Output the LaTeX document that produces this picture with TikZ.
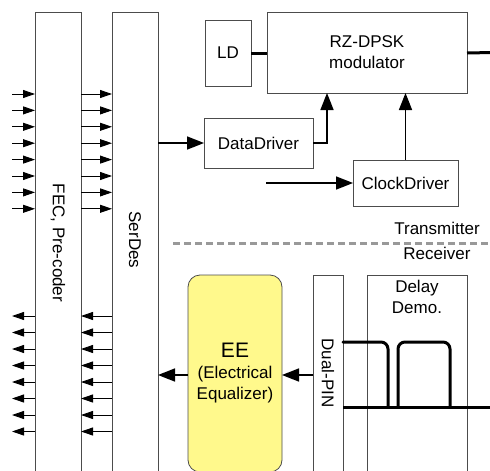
\documentclass[tikz,border=0pt]{standalone}
\usepackage{fontspec}
\setmainfont{Liberation Sans}
\usetikzlibrary{arrows.meta,calc}
\begin{document}
\begin{tikzpicture}[x=1pt,y=-1pt,
  box/.style={draw=black!70, line width=0.8pt, fill=white, inner sep=0pt, outer sep=0pt,
    font=\fontsize{17}{21}\selectfont, align=center, anchor=north west},
  lbl/.style={font=\fontsize{17}{21}\selectfont, align=center, inner sep=0pt},
  sarr/.style={-{Triangle[length=12pt,width=8pt]}, line width=0.9pt},
  barr/.style={-{Triangle[length=17pt,width=13pt]}, line width=1.7pt},
  thick line/.style={line width=3pt},
  wave/.style={line width=3pt, line cap=round, rounded corners=7pt},
  sep/.style={draw=black!40, line width=3pt, dash pattern=on 7pt off 4pt}]
\useasboundingbox (0,0) rectangle (490,471);
\begin{scope}
\clip (0,0) rectangle (490,471);
% columns
\node[box, minimum width=46pt, minimum height=470pt] (fec) at (35,12) {};
\node[lbl, rotate=-90] (fectxt) at (58,243) {FEC, Pre-coder};
\node[box, minimum width=46pt, minimum height=470pt] (serdes) at (112,12) {};
\node[lbl, rotate=-90] (serdestxt) at (135,240) {SerDes};
% transmitter
\node[box, minimum width=46pt, minimum height=66pt] (ld) at (205,20) {LD};
\node[box, minimum width=200pt, minimum height=81pt] (mod) at (267,12) {RZ-DPSK\\modulator};
\node[box, minimum width=109pt, minimum height=50pt] (dd) at (204,118) {DataDriver};
\node[box, minimum width=105pt, minimum height=46pt] (cd) at (353,160) {ClockDriver};
\coordinate (cin) at (266,183);
\coordinate (modout) at (492,52.5);
\draw[thick line] (ld.east) -- (ld.east -| mod.west);
\draw[thick line] (mod.east |- ld.east) -- (modout);
\draw[barr] (serdes.east |- dd.west) -- (dd.west);
\draw[barr] (dd.east) -| ($(mod.south west)+(60,0)$);
\draw[barr] (cd.north) -- (cd.north |- mod.south);
\draw[barr] (cin) -- (cd.west);
% separator
\coordinate (sepL) at (173,243);
\coordinate (sepR) at (492,243);
\draw[sep] (sepL) -- (sepR);
\node[lbl] (tx) at (437,228) {Transmitter};
\node[lbl] (rx) at (437,253) {Receiver};
% receiver
\node[box, fill=yellow!45, rounded corners=12pt, minimum width=94pt, minimum height=197pt] (ee) at (188,275)
  {{\fontsize{21}{24}\selectfont EE}\\(Electrical\\Equalizer)};
\node[box, minimum width=30pt, minimum height=210pt] (pin) at (313,275) {};
\node[lbl, rotate=-90] (pintxt) at (328,373) {Dual-PIN};
\node[box, minimum width=100pt, minimum height=210pt] (dem) at (367,275) {};
\node[lbl, anchor=north, font=\fontsize{17}{21}\selectfont] (demtxt) at (417,280) {Delay\\Demo.};
\coordinate (wr) at (492,407);
\draw[wave] (pin.east |- 0,342) -| (388,407);
\draw[wave] (398,407) |- (424,342) -| (450,407);
\draw[line width=3pt] (pin.east |- 0,407) -- (wr);
\draw[barr] (pin.west |- 0,375) -- (ee.east |- 0,375);
\draw[barr] (ee.west |- 0,375) -- (serdes.east |- 0,375);
% small arrows
\foreach \i in {0,...,7}{
  \pgfmathsetmacro{\yy}{94+16.4*\i}
  \coordinate (in\i) at (12,\yy);
  \draw[sarr] (in\i) -- (fec.west |- in\i);
  \draw[sarr] (fec.east |- in\i) -- (serdes.west |- in\i);
  \pgfmathsetmacro{\yo}{316+16.5*\i}
  \coordinate (out\i) at (12,\yo);
  \draw[sarr] (serdes.west |- out\i) -- (fec.east |- out\i);
  \draw[sarr] (fec.west |- out\i) -- (out\i);
}
\end{scope}
\end{tikzpicture}
\end{document}
